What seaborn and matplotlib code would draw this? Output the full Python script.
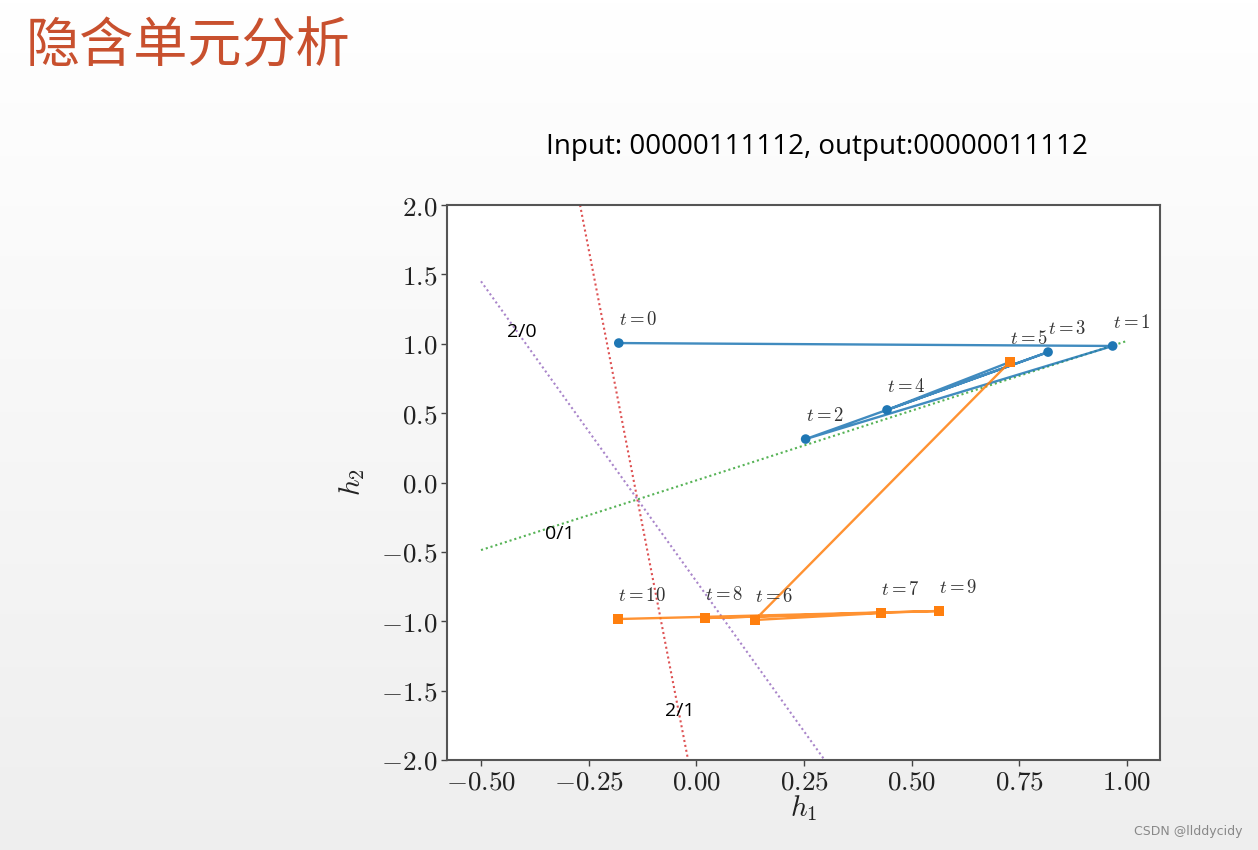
import numpy as np
import pandas as pd
import matplotlib
matplotlib.use("Agg")
import matplotlib.pyplot as plt
from matplotlib.ticker import FuncFormatter, MultipleLocator
import seaborn as sns

# ---- data ----
steps = list(range(11))
h1 = [-0.18, 0.967, 0.254, 0.817, 0.443, 0.728, 0.136, 0.428, 0.020, 0.564, -0.182]
h2 = [1.005, 0.984, 0.313, 0.940, 0.523, 0.868, -0.991, -0.941, -0.977, -0.926, -0.984]
phase = ["a"] * 5 + ["b"] * 6  # blue for t=0..4, orange for t=5..10

boundary_names = ["2/1", "2/0", "0/1"]
boundary_x0 = [-0.27, -0.50, -0.50]
boundary_y0 = [2.00, 1.45, -0.487]
boundary_x1 = [-0.019, 0.298, 1.00]
boundary_y1 = [-2.00, -2.00, 1.02]
boundary_colors = ["#d62728", "#9467bd", "#2ca02c"]
boundary_label_x = [-0.038, -0.405, -0.317]
boundary_label_y = [-1.65, 1.085, -0.37]

title_cn = "隐含单元分析"
subtitle = "Input: 00000111112, output:00000011112"

# ---- style ----
sns.set_style("white")
plt.rcParams["mathtext.fontset"] = "cm"
plt.rcParams["font.family"] = ["DejaVu Sans"]

W, H = 1258, 850
fig = plt.figure(figsize=(W / 100, H / 100), dpi=100)

# gradient background
bg = fig.add_axes([0, 0, 1, 1], zorder=-10)
grad = np.linspace(1.0, 0.935, 256).reshape(-1, 1)
bg.imshow(np.dstack([grad, grad, grad]), aspect="auto", extent=[0, 1, 0, 1])
bg.set_axis_off()

fig.text(26 / W, 1 - 47 / H, title_cn, fontsize=39, color="#C8502E",
         family=["Noto Sans CJK SC", "DejaVu Sans"], va="center", ha="left")
fig.text(817 / W, 1 - 147 / H, subtitle, fontsize=20, color="black",
         family=["Open Sans", "DejaVu Sans"], va="center", ha="center")
fig.text(1242 / W, 1 - 832 / H, "CSDN @llddycidy", fontsize=9, color="#888888",
         ha="right", va="center")

ax = fig.add_axes([447 / W, (H - 760) / H, (1160 - 447) / W, (760 - 205) / H])
ax.set_facecolor("white")

df = pd.DataFrame({"t": steps, "h1": h1, "h2": h2, "phase": phase})
blue_line = df.iloc[0:6]
orange = df[df.phase == "b"]
blue_pts = df[df.phase == "a"]

c_blue = "#1f77b4"
c_orange = "#ff7f0e"

# boundary lines
for i, name in enumerate(boundary_names):
    bdf = pd.DataFrame({"x": [boundary_x0[i], boundary_x1[i]],
                        "y": [boundary_y0[i], boundary_y1[i]]})
    sns.lineplot(data=bdf, x="x", y="y", sort=False, estimator=None, ax=ax,
                 color=boundary_colors[i], linestyle=(0, (1, 1.4)), linewidth=1.5,
                 alpha=0.8)
    ax.text(boundary_label_x[i], boundary_label_y[i], name, fontsize=14,
            family=["Open Sans", "DejaVu Sans"], ha="center", va="center", color="black")

sns.lineplot(data=blue_line, x="h1", y="h2", sort=False, estimator=None, ax=ax,
             color=c_blue, linewidth=1.7, alpha=0.85)
sns.lineplot(data=orange, x="h1", y="h2", sort=False, estimator=None, ax=ax,
             color=c_orange, linewidth=1.7, alpha=0.85)
sns.scatterplot(data=blue_pts, x="h1", y="h2", ax=ax, color=c_blue, marker="o",
                s=48, edgecolor="none", zorder=5)
sns.scatterplot(data=orange, x="h1", y="h2", ax=ax, color=c_orange, marker="s",
                s=52, edgecolor="none", zorder=5)

for t, x, y in zip(steps, h1, h2):
    ax.text(x, y + 0.1, f"$t={t}$", fontsize=13.5, color="#333333",
            ha="left", va="bottom")

ax.set_xlim(-0.579, 1.077)
ax.set_ylim(-2.0, 2.0)
ax.xaxis.set_major_locator(MultipleLocator(0.25))
ax.yaxis.set_major_locator(MultipleLocator(0.5))
ax.xaxis.set_major_formatter(FuncFormatter(lambda v, p: f"${v:.2f}$"))
ax.yaxis.set_major_formatter(FuncFormatter(lambda v, p: f"${v:.1f}$"))
ax.tick_params(axis="both", which="major", direction="out", length=4, width=1,
               color="#444444", labelsize=19.5, labelcolor="#222222", pad=3,
               bottom=True, left=True)
for s in ax.spines.values():
    s.set_color("#555555")
    s.set_linewidth(1.5)
ax.set_xlabel("$h_1$", fontsize=21, labelpad=-2, color="#222222")
ax.set_ylabel("$h_2$", fontsize=21, labelpad=10, color="#222222")

fig.savefig("out.png", dpi=100)
